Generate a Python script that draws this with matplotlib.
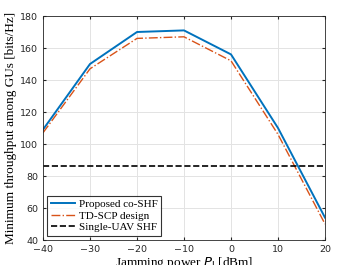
import matplotlib
matplotlib.use('Agg')
import matplotlib.pyplot as plt

# jamming power levels (dBm)
jam_power = [-40, -30, -20, -10, 0, 10, 20]
proposed = [109, 150, 170, 171, 156, 110, 54]
td_scp = [107, 147, 166, 167, 152, 106, 50]
single_uav = [86, 86, 86, 86, 86, 86, 86]

fig = plt.figure(figsize=(3.54, 2.65), dpi=100)
ax = fig.add_axes([43 / 354, 1 - 240 / 265, (325 - 43) / 354, (240 - 16) / 265])

ax.plot(jam_power, proposed, color='#0072BD', lw=1.4, label='Proposed co-SHF')
ax.plot(jam_power, td_scp, color='#D95319', lw=1.0, ls='-.', label='TD-SCP design')
ax.plot(jam_power, single_uav, color='black', lw=1.2, ls='--', label='Single-UAV SHF')

ax.set_xlim(-40, 20)
ax.set_ylim(40, 180)
ax.set_xticks(jam_power)
ax.set_yticks(range(40, 181, 20))
ax.grid(True, color='#e3e3e3', lw=0.7)
ax.set_axisbelow(True)
ax.tick_params(labelsize=6.8, length=2, direction='in', top=True, right=True, colors='#262626')
for s in ax.spines.values():
    s.set_color('#262626')
    s.set_linewidth(0.6)

ax.set_xlabel('Jamming power $P_\\mathrm{J}$ [dBm]', family='Liberation Serif', fontsize=9.5, labelpad=1)
ax.set_ylabel('Minimum throughput among GUs [bits/Hz]', family='Liberation Serif', fontsize=9.5, labelpad=2)

leg = ax.legend(loc='lower left', prop={'family': 'Liberation Serif', 'size': 8},
                fancybox=False, edgecolor='black', handlelength=2.2, handletextpad=0.3,
                borderpad=0.3, labelspacing=0.15, borderaxespad=0.4)
leg.get_frame().set_linewidth(0.8)

fig.savefig('out.png', dpi=100)
